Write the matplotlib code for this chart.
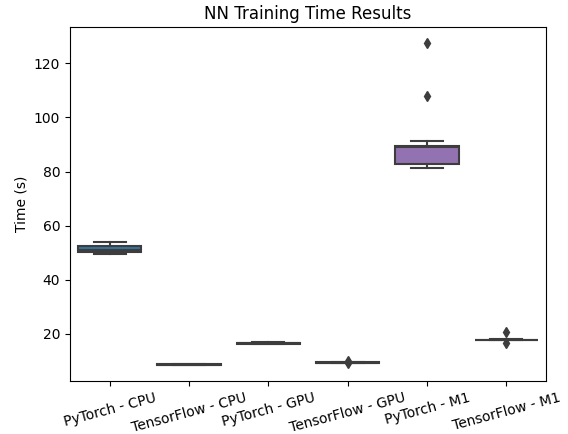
import matplotlib
matplotlib.use("Agg")
import matplotlib.pyplot as plt

categories = ["PyTorch - CPU", "TensorFlow - CPU", "PyTorch - GPU",
              "TensorFlow - GPU", "PyTorch - M1", "TensorFlow - M1"]
whislo = [49.6, 8.4, 16.35, 9.25, 81.4, 17.6]
q1 = [50.4, 8.5, 16.45, 9.3, 82.7, 17.7]
med = [50.9, 8.6, 16.6, 9.4, 88.9, 17.8]
q3 = [52.5, 8.8, 16.75, 9.5, 89.6, 17.9]
whishi = [53.8, 9.0, 16.85, 9.55, 91.3, 18.0]
fliers = [[], [], [], [10.1, 9.1], [108.0, 127.6], [20.7, 16.5]]
colors = ["#3274a1", "#e1812c", "#3a923a", "#c03d3e", "#9372b2", "#845b53"]

fig = plt.figure(figsize=(5.68, 4.34), dpi=100)
ax = fig.add_axes([0.1232, 0.1221, 0.8381, 0.8149])

stats = []
for i, name in enumerate(categories):
    stats.append(dict(label=name, whislo=whislo[i], q1=q1[i], med=med[i],
                      q3=q3[i], whishi=whishi[i], fliers=fliers[i]))

line_c = "#3d3d3d"
bp = ax.bxp(stats, positions=range(len(categories)), widths=0.8,
            patch_artist=True,
            boxprops=dict(edgecolor=line_c, linewidth=1.5),
            medianprops=dict(color=line_c, linewidth=1.5),
            whiskerprops=dict(color=line_c, linewidth=1.5),
            capprops=dict(color=line_c, linewidth=1.5),
            flierprops=dict(marker="d", markersize=5, markerfacecolor=line_c,
                            markeredgecolor=line_c, linestyle="none"))
for patch, c in zip(bp["boxes"], colors):
    patch.set_facecolor(c)

ax.set_xlim(-0.5, 5.5)
ax.set_ylim(2.6, 133.3)
ax.set_xticks(range(len(categories)))
ax.set_xticklabels(categories, rotation=15)
ax.set_ylabel("Time (s)")
ax.set_title("NN Training Time Results")

fig.savefig("out.png", dpi=100)
